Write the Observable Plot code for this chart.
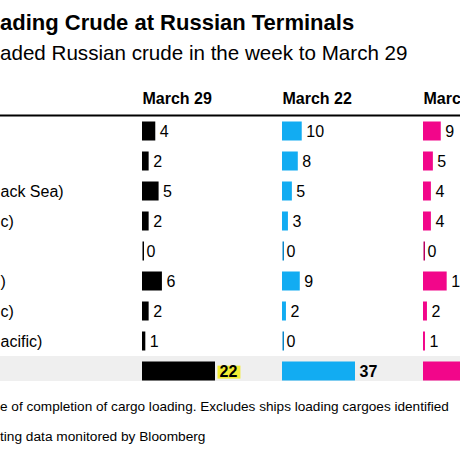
<!DOCTYPE html>
<html><head><meta charset="utf-8">
<script src="https://cdn.jsdelivr.net/npm/d3@7"></script>
<script src="https://cdn.jsdelivr.net/npm/@observablehq/plot@0.6"></script>
<style>
html,body{margin:0;padding:0;background:#fff;}
#wrap{position:relative;width:460px;height:460px;overflow:hidden;font-family:"Liberation Sans",Arial,sans-serif;color:#000;}
.t{position:absolute;left:0;white-space:nowrap;line-height:1;}
#title{top:12px;font-size:22px;font-weight:bold;}
#subtitle{top:43px;font-size:20.6px;}
#note{top:400px;font-size:13.6px;}
#source{top:430px;font-size:13.7px;}
.layer{position:absolute;top:0;height:460px;}
.layer svg{overflow:visible;max-width:none !important;}
</style></head><body>
<div id="wrap">
  <div id="title" class="t">ading Crude at Russian Terminals</div>
  <div id="subtitle" class="t">aded Russian crude in the week to March 29</div>
  <div id="note" class="t">e of completion of cargo loading. Excludes ships loading cargoes identified</div>
  <div id="source" class="t">ting data monitored by Bloomberg</div>
</div>
<script>
// ---- data ----
const rows = ["r1", "r2", "r3", "r4", "r5", "r6", "r7", "r8", "total"];
const rowLabels = ["", "", "ack Sea)", "c)", "", ")", "c)", "acific)", ""];
const weeks = ["March 29", "March 22", "March 15"];
const march29 = [4, 2, 5, 2, 0, 6, 2, 1, 22];
const march22 = [10, 8, 5, 3, 0, 9, 2, 0, 37];
const march15 = [9, 5, 4, 4, 0, 12, 2, 1, 37];
const colors = ["#000000", "#12acf2", "#f2068a"];
const zeroColors = ["#000000", "#0a86c8", "#b8005f"];

// ---- layout ----
const W = 460, H = 460, MT = 115, MB = 74;
const font = "Liberation Sans, Arial, sans-serif";
const wrap = document.getElementById("wrap");

function place(svg, left, width) {
  const d = document.createElement("div");
  d.className = "layer";
  d.style.left = left + "px";
  d.style.width = width + "px";
  d.appendChild(svg);
  wrap.appendChild(d);
  return svg;
}

// base table: total band, header rule, row labels
const base = Plot.plot({
  width: W, height: H,
  marginTop: MT, marginBottom: MB, marginLeft: 0, marginRight: 0,
  style: {fontFamily: font, background: "transparent"},
  x: {axis: null},
  y: {domain: rows, axis: null, padding: 0},
  marks: [
    Plot.cell(["total"], {y: d => d, fill: "#efefef", insetBottom: 5}),
    Plot.frame({anchor: "top", stroke: "#000", strokeWidth: 2}),
    Plot.text(rows, {y: d => d, text: (d, i) => rowLabels[i], frameAnchor: "left",
      textAnchor: "start", fontSize: 16, fill: "#000"})
  ]
});
place(base, 0, W);

const series = [march29, march22, march15];
const lefts = [140, 280, 421];
series.forEach((vals, c) => {
  const data = rows.map((r, i) => ({row: r, v: vals[i], total: r === "total"}));
  const svg = Plot.plot({
    width: 140, height: H,
    marginTop: MT, marginBottom: MB, marginLeft: 2, marginRight: 0,
    style: {fontFamily: font, background: "transparent"},
    x: {domain: [0, d3.max(vals)], range: [2, 75], axis: null},
    y: {domain: rows, axis: null, padding: 0},
    marks: [
      Plot.barX(data, {x: "v", y: "row", fill: colors[c], insetTop: 5.5, insetBottom: 5.5}),
      Plot.tickX(data.filter(d => d.v === 0), {x: "v", y: "row", stroke: zeroColors[c],
        strokeWidth: 1.5, insetTop: 5.5, insetBottom: 5.5, dx: 0.75}),
      Plot.text(data.filter(d => !d.total), {x: "v", y: "row", text: d => String(d.v),
        dx: 4, textAnchor: "start", fontSize: 16, fill: "#000"}),
      Plot.text(data.filter(d => d.total), {x: "v", y: "row", text: d => String(d.v),
        dx: 4, textAnchor: "start", fontSize: 16, fontWeight: "bold", fill: "#000",
        className: "total-" + c}),
      Plot.text([weeks[c]], {text: d => d, frameAnchor: "top-left", textAnchor: "start",
        dy: -23, fontSize: 16, fontWeight: "bold", fill: "#000"})
    ]
  });
  place(svg, lefts[c], 140);
  if (c === 0) {
    // yellow highlight behind the March 29 total
    const t = svg.querySelector(".total-0 text");
    if (t) {
      const b = t.getBBox();
      const r = document.createElementNS("http://www.w3.org/2000/svg", "rect");
      r.setAttribute("x", b.x - 2);
      r.setAttribute("y", b.y + 3);
      r.setAttribute("width", b.width + 5);
      r.setAttribute("height", b.height - 4);
      r.setAttribute("fill", "#f2ec35");
      const tr = t.getAttribute("transform");
      if (tr) r.setAttribute("transform", tr);
      t.parentNode.insertBefore(r, t);
    }
  }
});
</script>
</body></html>
